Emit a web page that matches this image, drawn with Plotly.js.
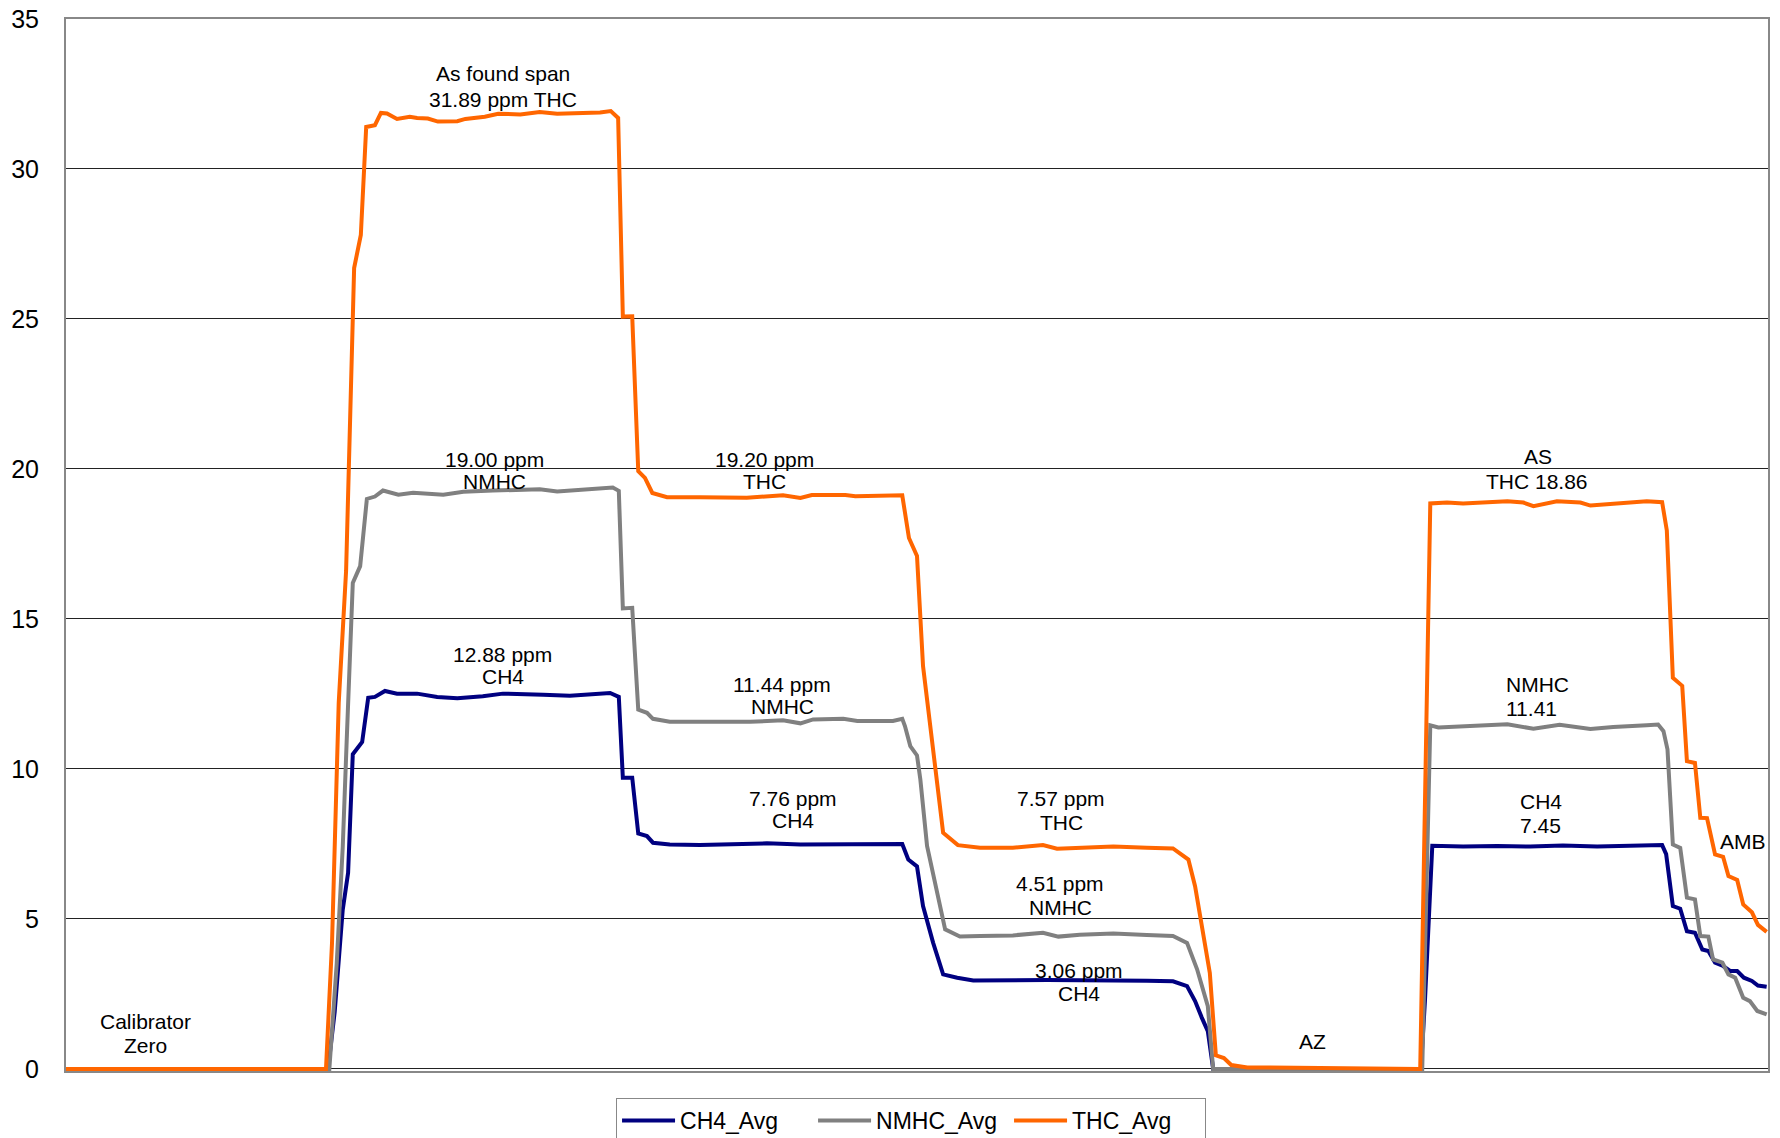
<!DOCTYPE html>
<html><head><meta charset="utf-8">
<script src="https://cdn.plot.ly/plotly-3.0.1.min.js"></script>
<style>html,body{margin:0;padding:0;background:#fff}#chart{width:1780px;height:1138px}</style>
</head><body><div id="chart"></div>
<script>
// ---- data (time in minutes, concentrations in ppm) ----
const seriesNames = ['CH4_Avg', 'NMHC_Avg', 'THC_Avg'];
const seriesColors = ['#000080', '#808080', '#FF6600'];

const tCH4 = [0,39.1,40.1,41.3,42.1,42.8,44.2,45.1,46.1,47.6,
  49.4,52.4,55.4,58.4,62.2,65.2,71.2,75.2,81.2,82.5,
  83.1,84.5,85.4,86.7,87.6,90.1,94.6,99.6,104.6,109.6,
  124.8,125.7,127.0,127.9,129.4,130.9,133.0,135.4,146.4,161.3,
  165.2,167.3,168.5,169.5,170.4,171.2,202.2,202.8,203.9,208.5,
  213.6,218.5,223.4,228.5,238.2,238.8,239.8,240.9,241.9,243.1,
  244.2,245.1,246.1,247.3,248.4,249.4,250.4,251.6,252.5,253.8];
const ch4 = [0,0,1.9,5.31,6.54,10.49,10.9,12.37,12.4,12.6,
  12.51,12.51,12.4,12.36,12.42,12.51,12.47,12.44,12.53,12.4,
  9.71,9.71,7.85,7.76,7.54,7.48,7.46,7.48,7.52,7.48,
  7.5,6.98,6.75,5.43,4.21,3.15,3.04,2.95,2.96,2.94,
  2.92,2.76,2.26,1.71,1.26,0,0,2.25,7.44,7.41,
  7.43,7.41,7.45,7.41,7.46,7.16,5.43,5.34,4.59,4.54,
  3.98,3.93,3.54,3.43,3.26,3.26,3.04,2.93,2.78,2.74];

const tNMHC = [0,39.3,40.4,41.3,41.9,42.5,42.8,43.9,44.9,46.1,
  47.3,49.6,51.8,56.3,59.3,63.7,70.7,73.3,76.3,80.1,
  81.6,82.5,83.1,84.5,85.4,86.7,87.6,90.1,102.1,107.0,
  109.6,111.5,116.0,118.1,123.4,124.8,125.2,126.0,127.0,127.5,
  128.5,131.2,133.4,136.4,141.3,145.8,148.1,151.3,156.3,161.3,
  165.2,167.3,168.8,170.4,171.2,202.4,203.6,204.8,208.5,213.6,
  215.1,219.0,222.9,227.5,230.9,235.9,237.6,238.4,239.0,239.8,
  240.9,241.9,243.1,243.9,245.1,245.8,247.2,248.1,249.1,250.3,
  251.3,252.4,253.8];
const nmhc = [0,0,3.5,7.4,11,15,16.2,16.76,19.0,19.08,
  19.28,19.14,19.21,19.14,19.24,19.28,19.32,19.25,19.3,19.33,
  19.38,19.27,15.35,15.37,11.98,11.87,11.67,11.57,11.57,11.62,
  11.52,11.65,11.67,11.6,11.6,11.67,11.43,10.76,10.45,9.65,
  7.43,4.65,4.41,4.43,4.45,4.54,4.41,4.47,4.51,4.46,
  4.43,4.2,3.32,2.09,0,0,11.45,11.38,11.42,11.45,
  11.49,11.34,11.47,11.33,11.4,11.46,11.48,11.26,10.65,7.48,
  7.37,5.71,5.65,4.43,4.41,3.65,3.54,3.15,3.04,2.37,
  2.26,1.93,1.82];

const tTHC = [0,38.8,39.7,40.7,41.8,43.0,44.0,44.8,
  46.1,47.0,47.9,49.4,51.3,52.4,54.0,55.5,58.4,59.6,
  62.5,64.5,67.8,70.7,73.3,76.7,79.7,81.3,82.4,83.1,
  84.5,85.4,86.4,87.5,89.7,94.6,101.6,107.0,109.6,111.3,
  116.3,117.8,124.8,125.8,127.0,127.9,130.0,130.9,133.1,136.4,
  141.3,145.8,147.9,151.3,156.3,161.3,165.2,167.5,168.5,170.7,
  171.6,172.8,173.9,176.3,202.1,203.6,206.1,208.5,212.1,215.1,
  217.5,219.0,222.5,226.0,227.5,230.9,235.9,238.2,238.9,239.8,
  241.2,241.9,243.1,243.9,244.9,246.1,247.3,248.1,249.4,250.3,
  251.6,252.5,253.8];
const thc = [0,0,4.2,12.2,16.6,26.7,27.8,31.4,
  31.46,31.87,31.85,31.67,31.74,31.7,31.68,31.58,31.59,31.67,
  31.74,31.84,31.82,31.9,31.84,31.86,31.88,31.93,31.7,25.08,
  25.09,19.93,19.7,19.2,19.06,19.06,19.04,19.12,19.03,19.13,
  19.13,19.09,19.12,17.7,17.1,13.43,9.65,7.87,7.46,7.37,
  7.37,7.46,7.34,7.38,7.41,7.37,7.35,6.98,6.09,3.2,
  0.45,0.36,0.13,0.05,0,18.85,18.88,18.85,18.89,18.92,
  18.88,18.76,18.92,18.88,18.78,18.83,18.92,18.89,17.95,13.04,
  12.77,10.26,10.2,8.37,8.36,7.15,7.07,6.43,6.3,5.48,
  5.22,4.8,4.57];

const yTicks = [0, 5, 10, 15, 20, 25, 30, 35];

// label lines: [text, x (minutes), y (ppm), xanchor]
const labelLines = [
  ['As found span', 65.2, 33.17, 'center'],
  ['31.89 ppm THC', 65.2, 32.33, 'center'],
  ['19.00 ppm', 63.9, 20.33, 'center'],
  ['NMHC', 63.9, 19.57, 'center'],
  ['12.88 ppm', 65.2, 13.83, 'center'],
  ['CH4', 65.2, 13.07, 'center'],
  ['19.20 ppm', 104.2, 20.33, 'center'],
  ['THC', 104.2, 19.57, 'center'],
  ['11.44 ppm', 106.9, 12.83, 'center'],
  ['NMHC', 106.9, 12.07, 'center'],
  ['7.76 ppm', 108.5, 9.03, 'center'],
  ['CH4', 108.5, 8.27, 'center'],
  ['7.57 ppm', 148.5, 9.0, 'center'],
  ['THC', 148.5, 8.2, 'center'],
  ['4.51 ppm', 148.4, 6.17, 'center'],
  ['NMHC', 148.4, 5.37, 'center'],
  ['3.06 ppm', 151.2, 3.27, 'center'],
  ['CH4', 151.2, 2.53, 'center'],
  ['AZ', 186.0, 0.9, 'center'],
  ['Calibrator', 11.9, 1.57, 'center'],
  ['Zero', 11.9, 0.77, 'center'],
  ['AS', 219.7, 20.43, 'center'],
  ['THC 18.86', 219.6, 19.57, 'center'],
  ['NMHC', 214.6, 12.83, 'left'],
  ['11.41', 214.6, 12.03, 'left'],
  ['CH4', 220.1, 8.9, 'center'],
  ['7.45', 220.1, 8.13, 'center'],
  ['AMB', 254.0, 7.57, 'right']
];

// ---- chart ----
const xs = [tCH4, tNMHC, tTHC];
const ys = [ch4, nmhc, thc];
const traces = seriesNames.map((n, i) => ({
  type: 'scatter', mode: 'lines', name: n,
  x: xs[i], y: ys[i],
  line: {color: seriesColors[i], width: 4},
  hoverinfo: 'x+y+name'
}));

const FONT = 'Liberation Sans, Arial, Helvetica, sans-serif';

const layout = {
  width: 1780, height: 1138,
  margin: {l: 66, r: 12, t: 19, b: 67, autoexpand: false},
  paper_bgcolor: '#ffffff', plot_bgcolor: '#ffffff',
  font: {family: FONT, color: '#000000'},
  showlegend: true,
  xaxis: {
    range: [0, 254], showticklabels: false, ticks: '', showgrid: false,
    zeroline: false, showline: true, mirror: true, linecolor: '#888888', linewidth: 2,
    fixedrange: true
  },
  yaxis: {
    range: [-0.07, 35], tickvals: yTicks, ticktext: yTicks.map(String),
    tickfont: {size: 25, family: FONT, color: '#000'},
    showgrid: true, gridcolor: '#222222', gridwidth: 1,
    zeroline: true, zerolinecolor: '#222222', zerolinewidth: 1,
    showline: true, mirror: true, linecolor: '#888888', linewidth: 2,
    ticks: '', ticklabelstandoff: 20, fixedrange: true
  },
  legend: {
    orientation: 'h', x: 0.4965, xanchor: 'center', y: -0.0257, yanchor: 'top',
    bordercolor: '#888888', borderwidth: 1, bgcolor: '#ffffff',
    font: {size: 23, family: FONT, color: '#000'},
    itemwidth: 53, entrywidth: 128, entrywidthmode: 'pixels'
  },
  annotations: labelLines.map(l => ({
    text: l[0], x: l[1], y: l[2], xref: 'x', yref: 'y',
    xanchor: l[3], yanchor: 'middle', showarrow: false,
    font: {size: 21, family: FONT, color: '#000'}
  }))
};

Plotly.newPlot('chart', traces, layout, {displayModeBar: false, staticPlot: true});
</script>
</body></html>
